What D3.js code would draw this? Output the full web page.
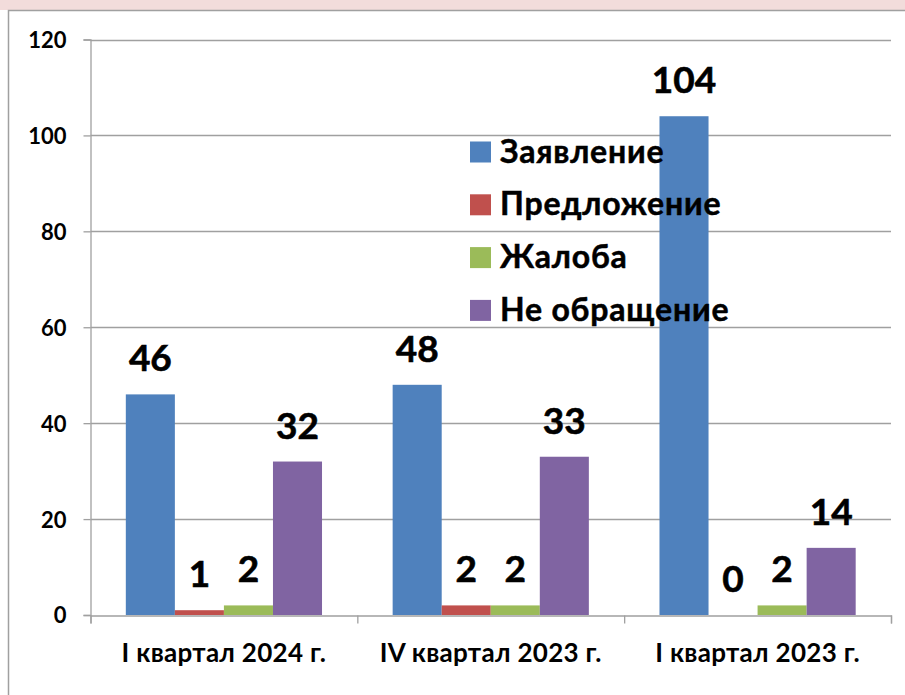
<!DOCTYPE html>
<html>
<head>
<meta charset="utf-8">
<script src="https://cdn.jsdelivr.net/npm/d3@7"></script>
<style>
  body { margin: 0; background: #fff; }
  text { font-family: Lato, "Open Sans", sans-serif; font-weight: bold; fill: #000; }
</style>
</head>
<body>
<svg id="chart" width="905" height="695"></svg>
<script>
const categories = ["I квартал 2024 г.", "IV квартал 2023 г.", "I квартал 2023 г."];
const series = ["Заявление", "Предложение", "Жалоба", "Не обращение"];
const colors = ["#4f81bd", "#c0504d", "#9bbb59", "#8064a2"];
const values = [
  [46, 1, 2, 32],
  [48, 2, 2, 33],
  [104, 0, 2, 14]
];
const yTicks = [0, 20, 40, 60, 80, 100, 120];

const svg = d3.select("#chart");
const width = +svg.attr("width");
const height = +svg.attr("height");

// pink strip and frame
svg.append("rect").attr("x", 0).attr("y", 0).attr("width", width).attr("height", 10)
  .attr("fill", "#f2dcdb");
svg.append("rect").attr("x", 8.5).attr("y", 10.5).attr("width", width).attr("height", height)
  .attr("fill", "#fff").attr("stroke", "#a0a0a0").attr("stroke-width", 1.5);

const margin = { left: 90.5, right: 891, top: 39.5, bottom: 615 };

const y = d3.scaleLinear().domain([0, 120]).range([margin.bottom, margin.top]);
const x0 = d3.scaleBand().domain(categories).range([margin.left, margin.right]).padding(0);
const x1 = d3.scaleBand().domain(series).range([0, x0.bandwidth()])
  .paddingInner(0).paddingOuter(0.72);

// gridlines
svg.append("g").selectAll("line").data(yTicks.slice(1)).join("line")
  .attr("x1", margin.left).attr("x2", margin.right)
  .attr("y1", d => Math.round(y(d)) + 0.5).attr("y2", d => Math.round(y(d)) + 0.5)
  .attr("stroke", "#a0a0a0").attr("stroke-width", 1.3);

// bars
const groups = svg.append("g").selectAll("g").data(categories).join("g")
  .attr("transform", d => `translate(${x0(d)},0)`);

groups.selectAll("rect")
  .data((c, i) => series.map((s, j) => ({ s, j, v: values[i][j] })))
  .join("rect")
  .attr("x", d => x1(d.s))
  .attr("width", x1.bandwidth())
  .attr("y", d => y(d.v))
  .attr("height", d => y(0) - y(d.v))
  .attr("fill", d => colors[d.j]);

groups.selectAll("text")
  .data((c, i) => series.map((s, j) => ({ s, j, v: values[i][j] })))
  .join("text")
  .attr("x", d => x1(d.s) + x1.bandwidth() / 2)
  .attr("y", d => y(d.v) - 23)
  .attr("text-anchor", "middle")
  .style("font-size", "37px")
  .style("stroke", "#000").style("stroke-width", 0.6)
  .text(d => d.v);

// y axis
const yAxis = svg.append("g")
  .attr("transform", `translate(${margin.left},0)`)
  .call(d3.axisLeft(y).tickValues(yTicks).tickSize(7).tickPadding(17));
yAxis.selectAll("text").style("font-size", "22px").attr("dy", "0.36em");
yAxis.selectAll("line, path").attr("stroke", "#a0a0a0").attr("stroke-width", 1.3);

// x axis
const xAxis = svg.append("g")
  .attr("transform", `translate(0,${Math.round(y(0)) + 0.5})`)
  .call(d3.axisBottom(d3.scaleLinear().domain([0, 3]).range([margin.left, margin.right]))
    .tickValues([0, 1, 2, 3]).tickSize(8).tickFormat(""));
xAxis.selectAll("line, path").attr("stroke", "#a0a0a0").attr("stroke-width", 1.3);

svg.append("g").selectAll("text").data(categories).join("text")
  .attr("x", d => x0(d) + x0.bandwidth() / 2)
  .attr("y", 662)
  .attr("text-anchor", "middle")
  .style("font-size", "26px")
  .style("letter-spacing", "0.3px")
  .text(d => d);

// legend
const legend = svg.append("g").selectAll("g").data(series).join("g")
  .attr("transform", (d, i) => `translate(470,${151.5 + i * 52.8})`);
legend.append("rect").attr("x", 0).attr("y", -10).attr("width", 21).attr("height", 21)
  .attr("fill", (d, i) => colors[i]);
legend.append("text").attr("x", 30).attr("y", 11)
  .style("font-size", "32px")
  .style("letter-spacing", "0.8px")
  .style("stroke", "#000").style("stroke-width", 0.5)
  .text(d => d);
</script>
</body>
</html>
